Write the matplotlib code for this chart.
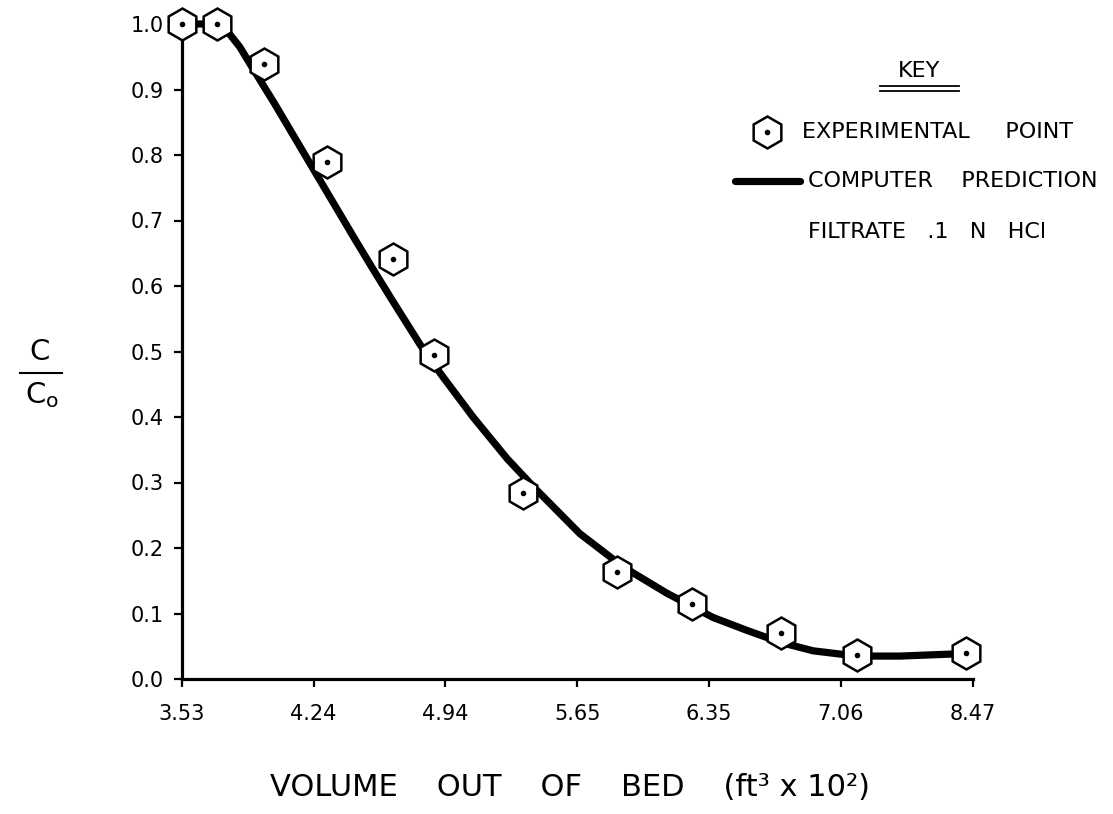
import matplotlib
matplotlib.use("Agg")
import matplotlib.pyplot as plt
from matplotlib.lines import Line2D

plt.rcParams['font.family'] = ['DejaVu Sans']

# Tick positions (drawn evenly spaced on the original) and their hand-written labels
x_tick_pos = [3.53, 4.236, 4.942, 5.648, 6.354, 7.06, 7.766]
x_tick_labels = ["3.53", "4.24", "4.94", "5.65", "6.35", "7.06", "8.47"]
y_ticks = [0.0, 0.1, 0.2, 0.3, 0.4, 0.5, 0.6, 0.7, 0.8, 0.9, 1.0]

# Experimental points (C/C0)
exp_x = [3.53, 3.72, 3.97, 4.31, 4.66, 4.88, 5.36, 5.86, 6.265, 6.74, 7.145, 7.73]
exp_y = [1.0, 1.0, 0.939, 0.790, 0.641, 0.495, 0.284, 0.163, 0.115, 0.070, 0.037, 0.039]

# Computer prediction curve
pred_x = [3.530, 3.721, 3.763, 3.841, 3.911, 4.024, 4.130, 4.236, 4.342, 4.448,
          4.554, 4.660, 4.808, 4.914, 5.090, 5.274, 5.429, 5.662, 5.895, 6.128,
          6.375, 6.559, 6.735, 6.912, 7.145, 7.378, 7.735]
pred_y = [1.0, 1.0, 0.993, 0.965, 0.932, 0.880, 0.829, 0.778, 0.727, 0.676,
          0.626, 0.577, 0.510, 0.467, 0.400, 0.336, 0.289, 0.222, 0.171, 0.131,
          0.094, 0.074, 0.056, 0.043, 0.035, 0.035, 0.039]

W, H = 1113, 814
fig = plt.figure(figsize=(W / 100, H / 100), dpi=100)
fig.patch.set_facecolor('white')

left, right, bottom, top = 181.7, 972.7, 679, 24
ax = fig.add_axes([left / W, 1 - bottom / H, (right - left) / W, (bottom - top) / H])
ax.set_xlim(x_tick_pos[0], x_tick_pos[-1])
ax.set_ylim(0, 1.0)

for s in ['top', 'right']:
    ax.spines[s].set_visible(False)
for s in ['left', 'bottom']:
    ax.spines[s].set_linewidth(2.3)
    ax.spines[s].set_color('black')

ax.set_xticks(x_tick_pos)
ax.set_xticklabels(x_tick_labels)
ax.set_yticks(y_ticks)
ax.set_yticklabels([f"{v:.1f}" for v in y_ticks])
ax.tick_params(axis='both', direction='out', length=6, width=1.6, labelsize=15, colors='black')
ax.tick_params(axis='x', pad=12)
ax.tick_params(axis='y', pad=7)

# Prediction curve
ax.plot(pred_x, pred_y, color='black', lw=5.2, solid_capstyle='butt',
        solid_joinstyle='round', zorder=3, clip_on=False)

# Experimental points: hexagon with centre dot
MS = 23
ax.plot(exp_x, exp_y, linestyle='none', marker='h', ms=MS, mfc='white', mec='black',
        mew=1.8, zorder=4, clip_on=False)
ax.plot(exp_x, exp_y, linestyle='none', marker='o', ms=3, mfc='black', mec='black',
        zorder=5, clip_on=False)


def fx(px):
    return px / W


def fy(py):
    return 1 - py / H


# Axis labels
fig.text(fx(570), fy(787), "VOLUME    OUT    OF    BED    (ft³ x 10²)", ha='center', va='center',
         fontsize=22)

fig.text(fx(40), fy(352), "C", ha='center', va='center', fontsize=21)
fig.add_artist(Line2D([fx(20), fx(62)], [fy(373), fy(373)], transform=fig.transFigure,
                      color='black', lw=1.5))
fig.text(fx(42), fy(395), r"C$_\mathregular{o}$", ha='center', va='center', fontsize=21)

# Key
fig.text(fx(919), fy(71), "KEY", ha='center', va='center', fontsize=16)
fig.add_artist(Line2D([fx(880), fx(959)], [fy(86), fy(86)], transform=fig.transFigure,
                      color='black', lw=1.3))
fig.add_artist(Line2D([fx(880), fx(959)], [fy(91), fy(91)], transform=fig.transFigure,
                      color='black', lw=1.3))

fig.add_artist(Line2D([fx(767)], [fy(132)], transform=fig.transFigure, marker='h', ms=MS,
                      mfc='white', mec='black', mew=1.8, linestyle='none'))
fig.add_artist(Line2D([fx(767)], [fy(132)], transform=fig.transFigure, marker='o', ms=3,
                      mfc='black', mec='black', linestyle='none'))
fig.text(fx(802), fy(132), "EXPERIMENTAL     POINT", ha='left', va='center', fontsize=16)

fig.add_artist(Line2D([fx(735), fx(800)], [fy(181), fy(181)], transform=fig.transFigure,
                      color='black', lw=5.2, solid_capstyle='round'))
fig.text(fx(808), fy(181), "COMPUTER    PREDICTION", ha='left', va='center', fontsize=16)
fig.text(fx(808), fy(232), "FILTRATE   .1   N   HCl", ha='left', va='center', fontsize=16)

fig.savefig("out.png", dpi=100, facecolor='white')
